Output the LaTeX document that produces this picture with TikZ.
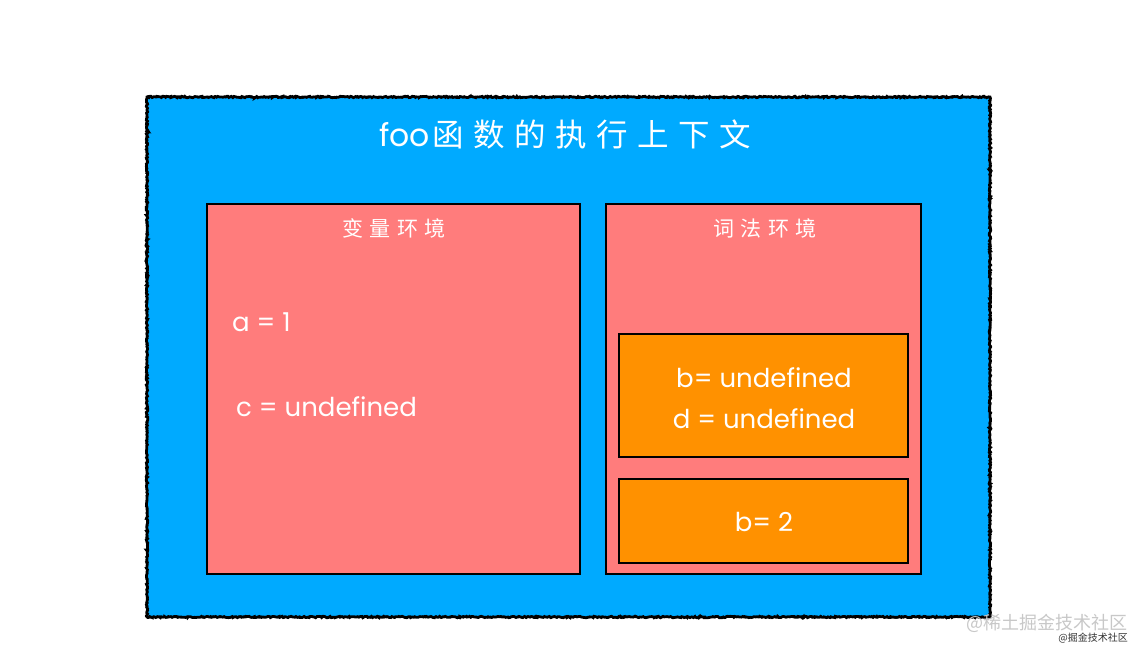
\documentclass[tikz,border=0pt]{standalone}
\usepackage{fontspec}
\setmainfont{Poppins}
\newfontfamily\cjk{Noto Sans CJK SC}[LetterSpace=30]
\newfontfamily\cjksub{Noto Sans CJK SC}[LetterSpace=30]
\newfontfamily\wmfont{Noto Sans CJK SC}
\usetikzlibrary{decorations.pathmorphing}
\definecolor{skyblue}{RGB}{0,170,255}
\definecolor{salmon}{RGB}{255,124,124}
\definecolor{orng}{RGB}{255,145,0}
\definecolor{wmgray}{RGB}{200,200,200}
\tikzset{
  outerbox/.style={draw=black,line width=2.8pt,fill=skyblue,
    decorate,decoration={random steps,segment length=1.2pt,amplitude=0.7pt}},
  envbox/.style={draw=black,line width=1.8pt,fill=salmon},
  recbox/.style={draw=black,line width=1.8pt,fill=orng},
  wtxt/.style={text=white,inner sep=0pt,font=\fontsize{26}{30}\selectfont},
  titletxt/.style={text=white,inner sep=0pt,font=\fontsize{31.5}{34}\selectfont},
  subtxt/.style={text=white,inner sep=0pt,font=\fontsize{21}{24}\cjksub},
}
\begin{document}
\begin{tikzpicture}[x=1pt,y=-1pt]
\useasboundingbox (0,0) rectangle (1142,654);
\fill[white] (0,0) rectangle (1142,654);
\draw[outerbox] (147,97) rectangle (990,617);
\node[titletxt] (title) at (565,134) {foo\hspace{3pt}{\cjk 函数的执行上下文}};
\draw[envbox] (207,204) rectangle (580,574);
\node[subtxt] (vtitle) at (394,228) {变量环境};
\draw[envbox] (606,204) rectangle (921,574);
\node[subtxt] (ltitle) at (765,228) {词法环境};
\node[wtxt,anchor=west] (a) at (232,322) {a = 1};
\node[wtxt,anchor=west] (c) at (236,407) {c = undefined};
\draw[recbox] (619,334) rectangle (908,457);
\node[wtxt,align=center] (bd) at (764,398) {b= undefined\\[11pt]d = undefined};
\draw[recbox] (619,479) rectangle (908,563);
\node[wtxt] (b2) at (764,522) {b= 2};
\node[text=wmgray,inner sep=0pt,anchor=east,font=\fontsize{18}{20}\wmfont] (wm1) at (1128,623) {@稀土掘金技术社区};
\node[text=black!80,inner sep=0pt,anchor=east,font=\fontsize{10}{12}\wmfont] (wm2) at (1128,638) {@掘金技术社区};
\end{tikzpicture}
\end{document}
